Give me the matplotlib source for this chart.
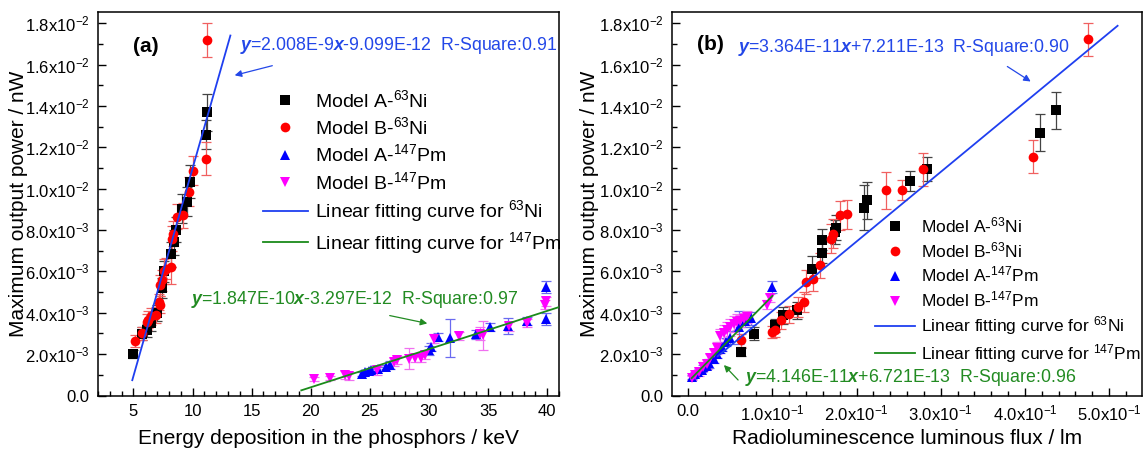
import numpy as np
import matplotlib
matplotlib.use("Agg")
import matplotlib.pyplot as plt
from matplotlib.ticker import FixedLocator, FixedFormatter, MultipleLocator

plt.rcParams['font.family'] = ['Liberation Sans', 'DejaVu Sans']
plt.rcParams['mathtext.fontset'] = 'custom'
plt.rcParams['mathtext.rm'] = 'Liberation Sans'
plt.rcParams['mathtext.it'] = 'Liberation Sans:italic'
plt.rcParams['mathtext.bf'] = 'Liberation Sans:bold'
plt.rcParams['mathtext.bfit'] = 'Liberation Sans:italic:bold'

# ---------------- data: panel (a) energy deposition ----------------
a_niA_x = [5.0, 5.71, 6.13, 6.5, 7.03, 7.4, 7.6, 8.16, 8.45, 8.6, 9.09, 9.56, 9.79, 11.14, 11.25]
a_niA_y = [0.00199, 0.00299, 0.00315, 0.0035, 0.00399, 0.0052, 0.0060, 0.00683, 0.0074, 0.00802,
           0.00904, 0.00936, 0.01033, 0.01262, 0.01369]
a_niA_e = [0.0002, 0.0003, 0.0003, 0.0004, 0.0004, 0.0005, 0.0005, 0.0006, 0.0006, 0.0006,
           0.0007, 0.0007, 0.0008, 0.0007, 0.0009]

a_niB_x = [5.14, 5.7, 6.13, 6.27, 6.47, 6.9, 7.2, 7.25, 7.25, 7.42, 7.6, 7.76, 8.16, 8.24, 8.38,
           8.66, 9.17, 9.68, 10.02, 11.11, 11.22]
a_niB_y = [0.00263, 0.0030, 0.00355, 0.00367, 0.00383, 0.0039, 0.00452, 0.0044, 0.00533, 0.00557,
           0.0060, 0.00613, 0.00621, 0.00759, 0.00783, 0.00864, 0.00872, 0.00985, 0.01086,
           0.01144, 0.01719]
a_niB_e = [0.0003, 0.0003, 0.0004, 0.0004, 0.0004, 0.0004, 0.0004, 0.0004, 0.0005, 0.0005,
           0.0006, 0.0005, 0.0008, 0.0006, 0.0006, 0.0006, 0.0006, 0.0007, 0.0007, 0.0008, 0.0008]

a_pmA_x = [24.3, 24.6, 24.9, 25.1, 25.7, 26.4, 26.7, 30.0, 30.2, 30.8, 31.8, 34.0, 35.2, 36.7,
           38.3, 39.9, 39.9]
a_pmA_y = [0.00105, 0.00112, 0.00118, 0.00122, 0.00130, 0.00138, 0.00146, 0.00218, 0.00234,
           0.00283, 0.00278, 0.00295, 0.00330, 0.00336, 0.00360, 0.00524, 0.00371]
a_pmA_e = [0.0001, 0.0001, 0.0001, 0.0001, 0.0001, 0.0001, 0.0002, 0.0002, 0.0002, 0.0002,
           0.0009, 0.0002, 0.0002, 0.0004, 0.0002, 0.0003, 0.0003]

a_pmB_x = [20.3, 21.6, 22.9, 23.2, 25.6, 27.0, 27.3, 28.3, 28.8, 29.3, 29.7, 30.4, 32.5, 34.3,
           34.6, 36.8, 38.3, 39.8, 39.9]
a_pmB_y = [0.00081, 0.00084, 0.00100, 0.00093, 0.00121, 0.00161, 0.00170, 0.00178, 0.00182,
           0.00183, 0.00195, 0.00275, 0.00287, 0.00299, 0.00291, 0.00334, 0.00352, 0.00440, 0.00455]
a_pmB_e = [0.0001, 0.0001, 0.0002, 0.0002, 0.0002, 0.0002, 0.0002, 0.0005, 0.0002, 0.0002,
           0.0002, 0.0002, 0.0002, 0.0003, 0.0007, 0.0002, 0.0002, 0.0002, 0.0002]

# fits (slope, intercept, x start, x end), axis units
a_fit_ni = (2.008e-3, -9.099e-3, 4.9, 13.2)
a_fit_pm = (1.847e-4, -3.297e-3, 19.2, 41.0)

# ---------------- data: panel (b) luminous flux ----------------
b_niA_x = [0.063, 0.078, 0.103, 0.113, 0.129, 0.147, 0.159, 0.159, 0.174, 0.176, 0.209, 0.212,
           0.264, 0.284, 0.418, 0.437]
b_niA_y = [0.0021, 0.00299, 0.00339, 0.00387, 0.00412, 0.00614, 0.00691, 0.00754, 0.00791,
           0.00812, 0.00909, 0.00944, 0.01038, 0.01095, 0.0127, 0.0138]
b_niA_e = [0.0002, 0.0003, 0.0003, 0.0004, 0.0004, 0.0006, 0.0005, 0.0005, 0.0006, 0.0006,
           0.0011, 0.0009, 0.0005, 0.0006, 0.0009, 0.0009]

b_niB_x = [0.063, 0.099, 0.103, 0.110, 0.120, 0.130, 0.138, 0.140, 0.148, 0.156, 0.169, 0.172,
           0.180, 0.189, 0.235, 0.254, 0.279, 0.410, 0.475]
b_niB_y = [0.00266, 0.00307, 0.00315, 0.00363, 0.00392, 0.00428, 0.00452, 0.00549, 0.00565,
           0.0063, 0.00759, 0.00783, 0.00872, 0.00877, 0.00993, 0.00993, 0.01095, 0.01154, 0.01723]
b_niB_e = [0.0003, 0.0003, 0.0003, 0.0004, 0.0004, 0.0005, 0.0005, 0.0006, 0.0006, 0.0006,
           0.0007, 0.0007, 0.0007, 0.0007, 0.0009, 0.0005, 0.0008, 0.0008, 0.0008]

b_pmA_x = [0.005, 0.008, 0.012, 0.016, 0.018, 0.022, 0.025, 0.030, 0.034, 0.038, 0.040, 0.045,
           0.050, 0.060, 0.068, 0.075, 0.100]
b_pmA_y = [0.00090, 0.00105, 0.00115, 0.00125, 0.00137, 0.00145, 0.00155, 0.00175, 0.00200,
           0.00225, 0.00234, 0.00260, 0.00280, 0.00330, 0.00360, 0.00373, 0.00525]
b_pmA_e = [0.0001, 0.0001, 0.0001, 0.0001, 0.0001, 0.0001, 0.0002, 0.0002, 0.0002, 0.0002,
           0.0002, 0.0002, 0.0003, 0.0008, 0.0003, 0.0003, 0.0003]

b_pmB_x = [0.005, 0.008, 0.013, 0.018, 0.022, 0.026, 0.030, 0.034, 0.038, 0.042, 0.046, 0.050,
           0.054, 0.058, 0.062, 0.066, 0.070, 0.093, 0.097]
b_pmB_y = [0.00085, 0.00100, 0.00115, 0.00140, 0.00150, 0.00180, 0.00205, 0.00230, 0.00290,
           0.00300, 0.00315, 0.00330, 0.00345, 0.00355, 0.00360, 0.00370, 0.00380, 0.00440, 0.00470]
b_pmB_e = [0.0001, 0.0001, 0.0002, 0.0002, 0.0002, 0.0002, 0.0002, 0.0003, 0.0003, 0.0004,
           0.0004, 0.0004, 0.0004, 0.0004, 0.0003, 0.0003, 0.0003, 0.0002, 0.0002]

b_fit_ni = (0.03364, 7.211e-4, 0.035, 0.51)
b_fit_pm = (0.04146, 6.721e-4, 0.004, 0.10)

# ticks
y_ticks = [0.0, 0.002, 0.004, 0.006, 0.008, 0.010, 0.012, 0.014, 0.016, 0.018]
y_labels = ['0.0', r'2.0x10$^{\mathregular{-3}}$', r'4.0x10$^{\mathregular{-3}}$',
            r'6.0x10$^{\mathregular{-3}}$', r'8.0x10$^{\mathregular{-3}}$',
            r'1.0x10$^{\mathregular{-2}}$', r'1.2x10$^{\mathregular{-2}}$',
            r'1.4x10$^{\mathregular{-2}}$', r'1.6x10$^{\mathregular{-2}}$',
            r'1.8x10$^{\mathregular{-2}}$']
a_xticks = [5, 10, 15, 20, 25, 30, 35, 40]
a_xlabels = ['5', '10', '15', '20', '25', '30', '35', '40']
b_xticks = [0.0, 0.1, 0.2, 0.3, 0.4, 0.5]
b_xlabels = ['0.0', r'1.0x10$^{\mathregular{-1}}$', r'2.0x10$^{\mathregular{-1}}$',
             r'3.0x10$^{\mathregular{-1}}$', r'4.0x10$^{\mathregular{-1}}$',
             r'5.0x10$^{\mathregular{-1}}$']

legend_labels = [r'Model A-$^{\mathregular{63}}$Ni', r'Model B-$^{\mathregular{63}}$Ni',
                 r'Model A-$^{\mathregular{147}}$Pm', r'Model B-$^{\mathregular{147}}$Pm',
                 r'Linear fitting curve for $^{\mathregular{63}}$Ni',
                 r'Linear fitting curve for $^{\mathregular{147}}$Pm']

BLUE_LINE = '#1f3ff0'
GREEN_LINE = '#1a8a1a'
BLUE_TXT = '#2347e8'
GREEN_TXT = '#228b22'

series_style = [
    dict(marker='s', color='black', ecolor='#444444', ms=6.5),
    dict(marker='o', color='#ff0000', ecolor='#f06060', ms=7.0),
    dict(marker='^', color='#0000ff', ecolor='#6a6af0', ms=7.0),
    dict(marker='v', color='#ff00ff', ecolor='#f070f0', ms=7.0),
]

W, H = 1144, 451
fig = plt.figure(figsize=(W / 100, H / 100), dpi=100)

def px_axes(l, r, t, b):
    return fig.add_axes([l / W, 1 - b / H, (r - l) / W, (b - t) / H])

axA = px_axes(98, 559, 12.3, 395.5)
axB = px_axes(672, 1142, 12.3, 395.5)

def draw(ax, series, fits, xlim, xticks, xlabels, xminor):
    handles = []
    for (x, y, e), st in zip(series, series_style):
        ax.errorbar(x, y, yerr=e, fmt='none', ecolor=st['ecolor'], elinewidth=0.9,
                    capsize=3.5, capthick=0.9, zorder=2)
        h, = ax.plot(x, y, linestyle='none', marker=st['marker'], color=st['color'],
                     markersize=st['ms'], markeredgewidth=0, zorder=3)
        handles.append(h)
    for (k, b0, x0, x1), col in zip(fits, [BLUE_LINE, GREEN_LINE]):
        xs = np.array([x0, x1])
        h, = ax.plot(xs, k * xs + b0, color=col, lw=1.3, zorder=4)
        handles.append(h)
    ax.set_xlim(*xlim)
    ax.set_ylim(0, 0.01853)
    ax.yaxis.set_major_locator(FixedLocator(y_ticks))
    ax.yaxis.set_major_formatter(FixedFormatter(y_labels))
    ax.yaxis.set_minor_locator(MultipleLocator(0.001))
    ax.xaxis.set_major_locator(FixedLocator(xticks))
    ax.xaxis.set_major_formatter(FixedFormatter(xlabels))
    ax.xaxis.set_minor_locator(MultipleLocator(xminor))
    ax.tick_params(which='both', direction='in', top=False, right=False, labelsize=12, width=1.0)
    ax.tick_params(which='major', length=6, pad=6)
    ax.tick_params(which='minor', length=3.5)
    for s in ax.spines.values():
        s.set_linewidth(1.1)
    ax.set_ylabel('Maximum output power / nW', fontsize=15)
    return handles

hA = draw(axA, [(a_niA_x, a_niA_y, a_niA_e), (a_niB_x, a_niB_y, a_niB_e),
                (a_pmA_x, a_pmA_y, a_pmA_e), (a_pmB_x, a_pmB_y, a_pmB_e)],
          [a_fit_ni, a_fit_pm], (2.0, 41.0), a_xticks, a_xlabels, 1)
hB = draw(axB, [(b_niA_x, b_niA_y, b_niA_e), (b_niB_x, b_niB_y, b_niB_e),
                (b_pmA_x, b_pmA_y, b_pmA_e), (b_pmB_x, b_pmB_y, b_pmB_e)],
          [b_fit_ni, b_fit_pm], (-0.0193, 0.539), b_xticks, b_xlabels, 0.02)

axA.set_xlabel('Energy deposition in the phosphors / keV', fontsize=15)
axB.set_xlabel('Radioluminescence luminous flux / lm', fontsize=15)
axA.yaxis.set_label_coords(-0.152, 0.5)
axB.yaxis.set_label_coords(-0.156, 0.5)
axA.xaxis.set_label_coords(0.5, -0.088)
axB.xaxis.set_label_coords(0.5, -0.088)

axA.text(0.075, 0.91, '(a)', transform=axA.transAxes, fontsize=15, fontweight='bold', va='center')
axB.text(0.053, 0.915, '(b)', transform=axB.transAxes, fontsize=15, fontweight='bold', va='center')

legA = axA.legend(hA, legend_labels, loc='upper left', bbox_to_anchor=(0.358, 0.8),
                  frameon=False, fontsize=14, handlelength=2.3, handletextpad=0.35,
                  labelspacing=0.28, borderpad=0, borderaxespad=0)
legB = axB.legend(hB, legend_labels, loc='upper left', bbox_to_anchor=(0.432, 0.47),
                  frameon=False, fontsize=12.5, handlelength=2.3, handletextpad=0.35,
                  labelspacing=0.28, borderpad=0, borderaxespad=0)

def px_to_fig(x, y):
    return (x / W, 1 - y / H)

# equation annotations
eqs = [
    (r'$\mathbfit{y}$=2.008E-9$\mathbfit{x}$-9.099E-12  R-Square:0.91', BLUE_TXT, (240, 45), (275, 65), (232, 76)),
    (r'$\mathbfit{y}$=1.847E-10$\mathbfit{x}$-3.297E-12  R-Square:0.97', GREEN_TXT, (191, 300), (387, 315), (430, 324)),
    (r'$\mathbfit{y}$=3.364E-11$\mathbfit{x}$+7.211E-13  R-Square:0.90', BLUE_TXT, (738, 48), (1005, 65), (1033, 83)),
    (r'$\mathbfit{y}$=4.146E-11$\mathbfit{x}$+6.721E-13  R-Square:0.96', GREEN_TXT, (745, 377), (740, 382), (722, 363)),
]
for txt, col, tpos, a0, a1 in eqs:
    fig.text(*px_to_fig(*tpos), txt, color=col, fontsize=12.8, va='center', ha='left')
    fig.add_artist(matplotlib.patches.FancyArrowPatch(px_to_fig(*a0), px_to_fig(*a1),
                   transform=fig.transFigure, arrowstyle='-|>', mutation_scale=10,
                   color=col, lw=0.9))

fig.savefig('out.png', dpi=100)
